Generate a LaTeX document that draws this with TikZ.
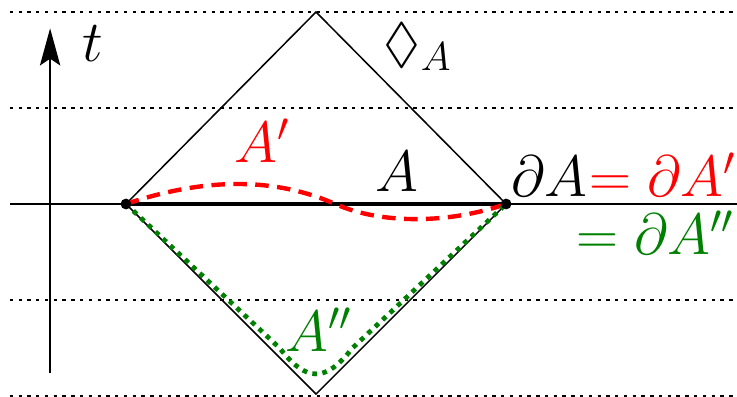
\documentclass[tikz,border=0pt]{standalone}
\usepackage{amssymb}
\usetikzlibrary{arrows.meta}
\tikzset{
  slice/.style={dash pattern=on 1pt off 1.6pt},
  edge/.style={line width=1.3pt},
  lbl/.style={inner sep=0pt, font=\fontsize{16.4}{20}\selectfont},
}
\begin{document}
\begin{tikzpicture}[x=1cm, y=1cm]
  \useasboundingbox (-3.292,-2.01) rectangle (4.385,2.125);

  % --- time slices ---
  \foreach \y in {-2,-1,1,2}
    \draw[slice] (-3.19,\y) -- (4.385,\y);
  \draw (-3.19,0) -- (4.385,0);

  % --- time axis ---
  \coordinate (tlow) at (-2.77,-1.76);
  \coordinate (thigh) at (-2.77,1.83);
  \draw[line width=0.6pt, -{Stealth[length=11pt,width=6pt,inset=2pt]}] (tlow) -- (thigh);
  \node[lbl, anchor=base west] (tlab) at (-2.44,1.48) {$t$};

  % --- causal diamond ---
  \coordinate (pl) at (-1.98,0);
  \coordinate (pr) at (1.98,0);
  \coordinate (ptop) at (0,2.0);
  \coordinate (pbot) at (0,-1.98);
  \draw[line width=0.45pt] (pl) -- (ptop) -- (pr) -- (pbot) -- cycle;
  \node[lbl, anchor=base west] (dlab) at (0.70,1.48) {$\lozenge_A$};

  % --- region A ---
  \draw[edge] (pl) -- (pr);
  \node[lbl, anchor=base] (alab) at (0.84,0.125) {$A$};

  % --- A' (red) ---
  \draw[edge, red, dash pattern=on 4pt off 2.5pt]
    (pl) .. controls (-1.0,0.33) and (-0.3,0.22) .. (0.2,0)
         .. controls (0.7,-0.22) and (1.4,-0.2) .. (pr);
  \node[lbl, red, anchor=base] (aplab) at (-0.56,0.43) {$A'$};

  % --- A'' (green) ---
  \draw[edge, green!50!black, line width=1.4pt, dash pattern=on 1.4pt off 1.6pt]
    (pl) -- (-0.38,-1.5) .. controls (-0.1,-1.86) and (0.1,-1.86) .. (0.38,-1.5) -- (pr);
  \node[lbl, green!50!black, anchor=base] (applab) at (0.03,-1.54) {$A''$};

  % --- end points ---
  \fill (pl) circle (1.6pt);
  \fill (pr) circle (1.6pt);

  % --- boundary ---
  \node[lbl, anchor=base west] (bd) at (2.03,0.08) {$\partial A$};
  \node[lbl, red, anchor=base west] (bdp) at (bd.base east) {$=\partial A'$};
  \node[lbl, green!50!black, anchor=base east] (bdpp) at (4.365,-0.53) {$=\partial A''$};

\end{tikzpicture}
\end{document}
